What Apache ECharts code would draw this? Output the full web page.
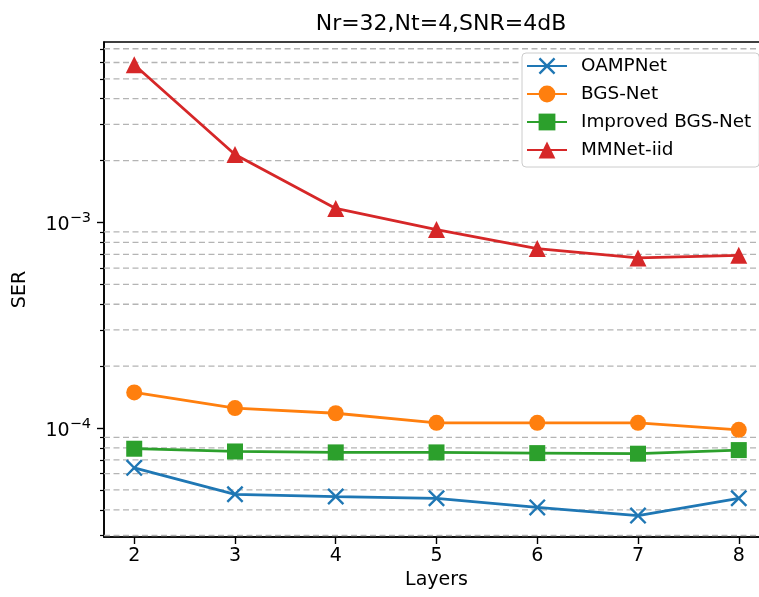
<!DOCTYPE html>
<html>
<head>
<meta charset="utf-8">
<script src="https://cdn.jsdelivr.net/npm/echarts@6/dist/echarts.min.js"></script>
<style>html,body{margin:0;padding:0;background:#fff;}#c{width:759px;height:597px;}</style>
</head>
<body>
<div id="c"></div>
<script>
const layers = [2, 3, 4, 5, 6, 7, 8];
const oampNet = [6.4e-5, 4.76e-5, 4.64e-5, 4.55e-5, 4.11e-5, 3.75e-5, 4.55e-5];
const bgsNet = [1.49e-4, 1.25e-4, 1.18e-4, 1.06e-4, 1.06e-4, 1.06e-4, 9.8e-5];
const improvedBgsNet = [7.93e-5, 7.69e-5, 7.61e-5, 7.61e-5, 7.55e-5, 7.5e-5, 7.81e-5];
const mmNetIid = [5.85e-3, 2.14e-3, 1.17e-3, 9.24e-4, 7.46e-4, 6.72e-4, 6.92e-4];
const seriesNames = ['OAMPNet', 'BGS-Net', 'Improved BGS-Net', 'MMNet-iid'];
const xTicks = [2, 3, 4, 5, 6, 7, 8];
const xRange = [1.7, 8.3];
const yMajorTicks = [1e-4, 1e-3];
const yMinorTicks = [3e-5, 4e-5, 5e-5, 6e-5, 7e-5, 8e-5, 9e-5,
  2e-4, 3e-4, 4e-4, 5e-4, 6e-4, 7e-4, 8e-4, 9e-4,
  2e-3, 3e-3, 4e-3, 5e-3, 6e-3, 7e-3];
const yMin = 2.95e-5, yMax = 7.55e-3;

const FONT = 'DejaVu Sans';
const colors = ['#1f77b4', '#ff7f0e', '#2ca02c', '#d62728'];
const xPath = 'path://M0,1 L1,0 L5,4 L9,0 L10,1 L6,5 L10,9 L9,10 L5,6 L1,10 L0,9 L4,5 Z';
const symbols = [xPath, 'circle', 'rect', 'triangle'];
const sizes = [17, 16, 16, 17];
const values = [oampNet, bgsNet, improvedBgsNet, mmNetIid];

const chart = echarts.init(document.getElementById('c'), null, {renderer: 'canvas'});

const gridSeries = yMinorTicks.map(v => ({
  name: 'grid' + v,
  type: 'line',
  data: [[xRange[0], v], [xRange[1], v]],
  symbol: 'none',
  silent: true,
  lineStyle: {color: '#b4b4b4', width: 1.3, type: [6, 3.5]},
  emphasis: {disabled: true},
  z: 1
}));

const series = values.map((arr, i) => ({
  name: seriesNames[i],
  type: 'line',
  data: layers.map((x, j) => [x, arr[j]]),
  symbol: symbols[i],
  symbolSize: sizes[i],
  showAllSymbol: true,
  lineStyle: {color: colors[i], width: 2.8},
  itemStyle: {color: colors[i], borderWidth: 0},
  z: 3
}));

const sup = s => s.replace('-', '\u2212');

chart.setOption({
  animation: false,
  backgroundColor: '#fff',
  textStyle: {fontFamily: FONT},
  title: {
    text: 'Nr=32,Nt=4,SNR=4dB',
    left: 436, top: 8, textAlign: 'center',
    textStyle: {fontFamily: FONT, fontSize: 22, fontWeight: 'normal', color: '#000'}
  },
  legend: {
    data: seriesNames,
    orient: 'vertical',
    left: 522, top: 53,
    itemWidth: 40, itemHeight: 21, itemGap: 10,
    padding: [4, 8, 8, 4],
    backgroundColor: '#ffffff',
    borderColor: '#cccccc', borderWidth: 1, borderRadius: 4,
    textStyle: {fontFamily: FONT, fontSize: 18.4, color: '#000', padding: [0, 0, 0, 9]},
    zlevel: 1,
    z: 10
  },
  grid: {
    left: 104, width: 665, top: 42, bottom: 60,
    outerBoundsMode: 'none', containLabel: false,
    show: true, borderColor: '#000', borderWidth: 1.6, backgroundColor: 'transparent'
  },
  xAxis: {
    type: 'value', min: xRange[0], max: xRange[1],
    name: 'Layers', nameLocation: 'middle', nameGap: 33,
    nameTextStyle: {fontFamily: FONT, fontSize: 19, color: '#000'},
    axisLine: {show: true, lineStyle: {color: '#000', width: 1.6}},
    axisTick: {show: true, customValues: xTicks, length: 7, lineStyle: {color: '#000', width: 1.4}},
    axisLabel: {customValues: xTicks, margin: 10, fontFamily: FONT, fontSize: 19, color: '#000'},
    splitLine: {show: false}
  },
  yAxis: [{
    type: 'log', logBase: 10, min: yMin, max: yMax, position: 'left',
    name: 'SER', nameLocation: 'middle', nameGap: 74, nameRotate: 90,
    nameTextStyle: {fontFamily: FONT, fontSize: 19, color: '#000'},
    axisLine: {show: true, lineStyle: {color: '#000', width: 1.6}},
    axisTick: {show: true, customValues: yMajorTicks, length: 7, lineStyle: {color: '#000', width: 1.4}},
    axisLabel: {
      customValues: yMajorTicks, margin: 13,
      formatter: v => '{b|10}{s|' + sup(String(Math.round(Math.log10(v)))) + '}',
      rich: {
        b: {fontFamily: FONT, fontSize: 19, color: '#000', padding: [6, 0, 0, 0]},
        s: {fontFamily: FONT, fontSize: 14.5, color: '#000', padding: [0, 0, 8, 0]}
      }
    },
    splitLine: {show: false}
  }, {
    type: 'log', logBase: 10, min: yMin, max: yMax, position: 'left', offset: 0,
    axisLine: {show: false},
    axisTick: {show: true, customValues: yMinorTicks, length: 4, lineStyle: {color: '#000', width: 1.2}},
    axisLabel: {show: false},
    splitLine: {show: false}
  }],
  series: gridSeries.concat(series)
});
</script>
</body>
</html>
